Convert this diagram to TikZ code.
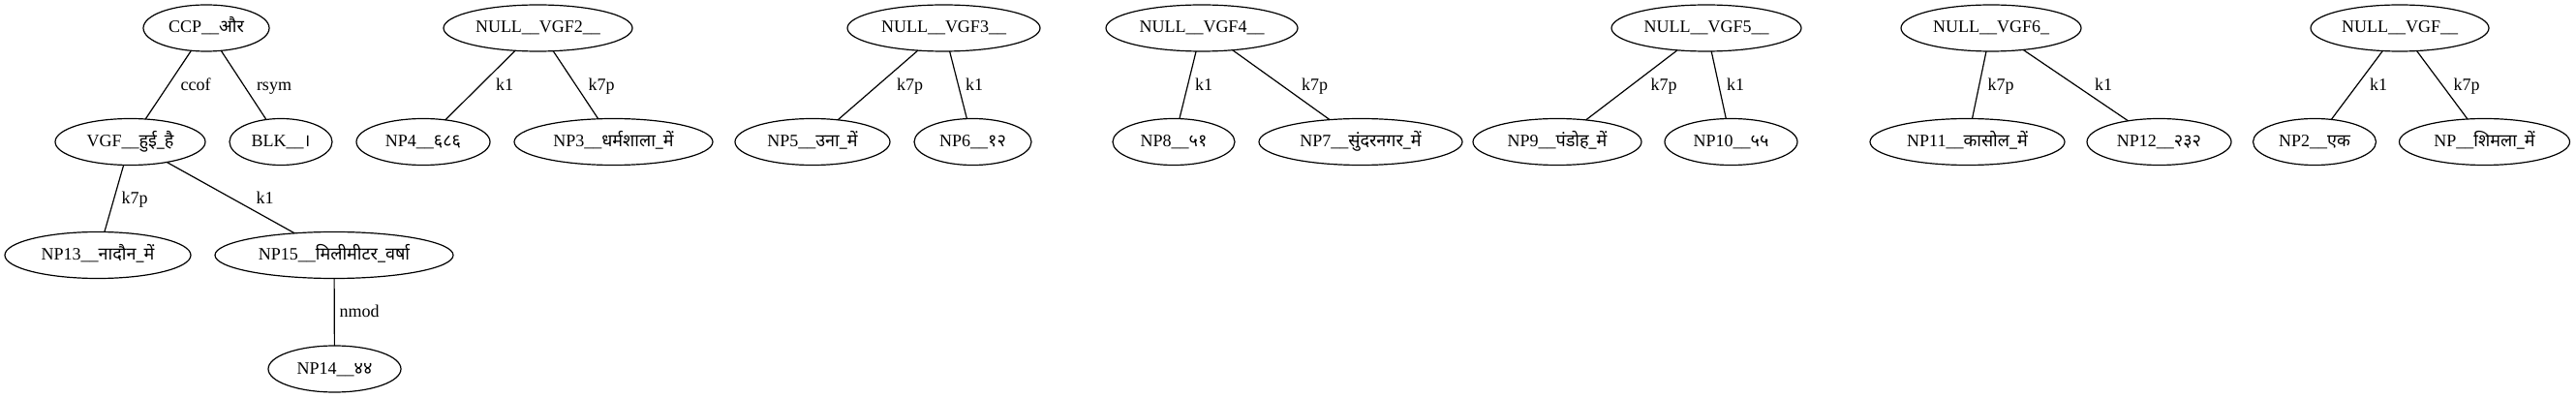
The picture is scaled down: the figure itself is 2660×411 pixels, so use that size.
\documentclass[tikz,border=0pt]{standalone}
\usepackage{fontspec}
\usetikzlibrary{shapes.geometric}
\setmainfont{Liberation Serif}
\newfontfamily\deva[Script=Devanagari]{Noto Sans}
\begin{document}
\begin{tikzpicture}[x=0.5pt,y=-0.5pt,
  tnode/.style={draw,ellipse,line width=0.6pt,inner sep=0pt,outer sep=0pt,
    minimum height=24pt,text height=6.5pt,text depth=1.5pt,font=\fontsize{9}{11}\selectfont},
  elab/.style={anchor=base,inner sep=0pt,font=\fontsize{9}{11}\selectfont},
  edge/.style={line width=0.6pt}]
\useasboundingbox (0,0) rectangle (2660,411);
% tree 1
\node[tnode,minimum width=65pt] (ccp) at (213,29) {CCP\_\_{\deva और}};
\node[tnode,minimum width=77.5pt] (vgf) at (134.5,146.5) {VGF\_\_{\deva हुई\_है}};
\node[tnode,minimum width=53pt] (blk) at (290,146.5) {BLK\_\_{\deva ।}};
\node[tnode,minimum width=96pt] (np13) at (101,263.5) {NP13\_\_{\deva नादौन\_में}};
\node[tnode,minimum width=123pt] (np15) at (345,263.5) {NP15\_\_{\deva मिलीमीटर\_वर्षा}};
\node[tnode,minimum width=68.5pt] (np14) at (345.5,381) {NP14\_\_{\deva ४४}};
% tree 2
\node[tnode,minimum width=97.5pt] (vgf2) at (555.5,29) {NULL\_\_VGF2\_\_};
\node[tnode,minimum width=69pt] (np4) at (437,146.5) {NP4\_\_{\deva ६८६}};
\node[tnode,minimum width=102.5pt] (np3) at (633.5,146.5) {NP3\_\_{\deva धर्मशाला\_में}};
% tree 3
\node[tnode,minimum width=99.5pt] (vgf3) at (974.5,29) {NULL\_\_VGF3\_\_};
\node[tnode,minimum width=80pt] (np5) at (839,146.5) {NP5\_\_{\deva उना\_में}};
\node[tnode,minimum width=60.5pt] (np6) at (1004.5,146.5) {NP6\_\_{\deva १२}};
% tree 4
\node[tnode,minimum width=99pt] (vgf4) at (1241,29) {NULL\_\_VGF4\_\_};
\node[tnode,minimum width=63pt] (np8) at (1212,146.5) {NP8\_\_{\deva ५१}};
\node[tnode,minimum width=105pt] (np7) at (1405,146.5) {NP7\_\_{\deva सुंदरनगर\_में}};
% tree 5
\node[tnode,minimum width=98pt] (vgf5) at (1762,29) {NULL\_\_VGF5\_\_};
\node[tnode,minimum width=87pt] (np9) at (1608,146.5) {NP9\_\_{\deva पंडोह\_में}};
\node[tnode,minimum width=68.5pt] (np10) at (1787.5,146.5) {NP10\_\_{\deva ५५}};
% tree 6
\node[tnode,minimum width=93pt] (vgf6) at (2056,29) {NULL\_\_VGF6\_};
\node[tnode,minimum width=100.5pt] (np11) at (2031.5,146.5) {NP11\_\_{\deva कासोल\_में}};
\node[tnode,minimum width=74.5pt] (np12) at (2229.5,146.5) {NP12\_\_{\deva २३२}};
% tree 7
\node[tnode,minimum width=92pt] (vgfx) at (2478,29) {NULL\_\_VGF\_\_};
\node[tnode,minimum width=63.5pt] (np2) at (2390,146.5) {NP2\_\_{\deva एक}};
\node[tnode,minimum width=88pt] (nps) at (2565.5,146.5) {NP\_\_{\deva शिमला\_में}};
% edges
\draw[edge] (ccp) -- (vgf);
\draw[edge] (ccp) -- (blk);
\draw[edge] (vgf) -- (np13);
\draw[edge] (vgf) -- (np15);
\draw[edge] (np15) -- (np14);
\draw[edge] (vgf2) -- (np4);
\draw[edge] (vgf2) -- (np3);
\draw[edge] (vgf3) -- (np5);
\draw[edge] (vgf3) -- (np6);
\draw[edge] (vgf4) -- (np8);
\draw[edge] (vgf4) -- (np7);
\draw[edge] (vgf5) -- (np9);
\draw[edge] (vgf5) -- (np10);
\draw[edge] (vgf6) -- (np11);
\draw[edge] (vgf6) -- (np12);
\draw[edge] (vgfx) -- (np2);
\draw[edge] (vgfx) -- (nps);
% edge labels
\node[elab] (l1) at (202,94) {ccof};
\node[elab] (l2) at (283,94) {rsym};
\node[elab] (l3) at (139,211) {k7p};
\node[elab] (l4) at (273.5,211) {k1};
\node[elab] (l5) at (371,328) {nmod};
\node[elab] (l6) at (521,94) {k1};
\node[elab] (l7) at (621,94) {k7p};
\node[elab] (l8) at (939.5,94) {k7p};
\node[elab] (l9) at (1006,94) {k1};
\node[elab] (l10) at (1243,94) {k1};
\node[elab] (l11) at (1357.5,94) {k7p};
\node[elab] (l12) at (1718,94) {k7p};
\node[elab] (l13) at (1792,94) {k1};
\node[elab] (l14) at (2066,94) {k7p};
\node[elab] (l15) at (2172,94) {k1};
\node[elab] (l16) at (2456,94) {k1};
\node[elab] (l17) at (2547,94) {k7p};
\end{tikzpicture}
\end{document}
